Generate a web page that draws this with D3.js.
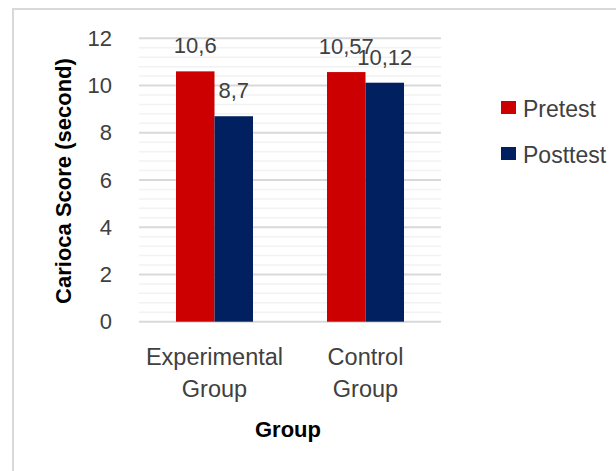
<!DOCTYPE html>
<html>
<head>
<meta charset="utf-8">
<script src="https://cdn.jsdelivr.net/npm/d3@7"></script>
<style>
  html, body { margin: 0; padding: 0; background: #fff; }
  svg { display: block; }
  text { font-family: "Liberation Sans", Arial, sans-serif; }
</style>
</head>
<body>
<svg id="chart" width="616" height="471"></svg>
<script>
// ---- data ----
const categories = [["Experimental", "Group"], ["Control", "Group"]];
const categoryKeys = ["Experimental Group", "Control Group"];
const seriesNames = ["Pretest", "Posttest"];
const pretest = [10.6, 10.57];
const posttest = [8.7, 10.12];
const pretestLabels = ["10,6", "10,57"];
const posttestLabels = ["8,7", "10,12"];
const yTicks = [0, 2, 4, 6, 8, 10, 12];
const yTitle = "Carioca Score (second)";
const xTitle = "Group";

const colors = { Pretest: "#cc0000", Posttest: "#002060" };
const textColor = "#404040";

const svg = d3.select("#chart");

// outer border (chart area)
svg.append("rect")
  .attr("x", 13).attr("y", 9)
  .attr("width", 640).attr("height", 500)
  .attr("fill", "#fff")
  .attr("stroke", "#d9d9d9").attr("stroke-width", 2);

const plot = { left: 139, right: 441, top: 38.3, bottom: 321.7 };

const y = d3.scaleLinear().domain([0, 12]).range([plot.bottom, plot.top]);
const x0 = d3.scaleBand().domain(categoryKeys)
  .range([plot.left, plot.right]).paddingInner(0.49).paddingOuter(0.245);
const x1 = d3.scaleBand().domain(seriesNames).range([0, x0.bandwidth()]);

// minor gridlines
const minor = d3.range(0, 12.0001, 0.4).filter(v => Math.abs(v / 2 - Math.round(v / 2)) > 1e-6);
svg.append("g").selectAll("line").data(minor).join("line")
  .attr("x1", plot.left).attr("x2", plot.right)
  .attr("y1", d => y(d)).attr("y2", d => y(d))
  .attr("stroke", "#f2f2f2").attr("stroke-width", 1.5);

// major gridlines
svg.append("g").selectAll("line").data(yTicks).join("line")
  .attr("x1", plot.left).attr("x2", plot.right)
  .attr("y1", d => y(d)).attr("y2", d => y(d))
  .attr("stroke", "#d9d9d9").attr("stroke-width", 2);

// y axis tick labels
const yAxis = d3.axisLeft(y).tickValues(yTicks).tickSize(0).tickPadding(0).tickFormat(d3.format("d"));
const yg = svg.append("g").attr("transform", `translate(${plot.left - 27},0)`).call(yAxis);
yg.select(".domain").remove();
yg.selectAll("text").attr("fill", textColor).style("font-size", "22px")
  .style("font-family", '"Liberation Sans", Arial, sans-serif');

// bars
const rows = categoryKeys.map((k, i) => ({
  key: k,
  values: [
    { s: "Pretest", v: pretest[i], label: pretestLabels[i] },
    { s: "Posttest", v: posttest[i], label: posttestLabels[i] }
  ]
}));

const groups = svg.append("g").selectAll("g").data(rows).join("g")
  .attr("transform", d => `translate(${x0(d.key)},0)`);

groups.selectAll("rect").data(d => d.values).join("rect")
  .attr("x", d => x1(d.s)).attr("width", x1.bandwidth())
  .attr("y", d => y(d.v)).attr("height", d => y(0) - y(d.v))
  .attr("fill", d => colors[d.s]);

groups.selectAll("text").data(d => d.values).join("text")
  .attr("x", d => x1(d.s) + x1.bandwidth() / 2)
  .attr("y", d => y(d.v) - 18)
  .attr("text-anchor", "middle")
  .attr("fill", textColor)
  .style("font-size", "22px")
  .text(d => d.label);

// category labels
const catG = svg.append("g").selectAll("text").data(categoryKeys).join("text")
  .attr("text-anchor", "middle")
  .attr("fill", textColor)
  .style("font-size", "23.5px");
catG.each(function (d, i) {
  const t = d3.select(this);
  const cx = x0(d) + x0.bandwidth() / 2;
  categories[i].forEach((line, j) => {
    t.append("tspan").attr("x", cx).attr("y", 365 + j * 32).text(line);
  });
});

// axis titles
svg.append("text")
  .attr("x", 288).attr("y", 437)
  .attr("text-anchor", "middle")
  .attr("fill", "#000")
  .style("font-size", "22px").style("font-weight", "bold")
  .text(xTitle);

svg.append("text")
  .attr("transform", `translate(71,${(plot.top + plot.bottom) / 2 + 1}) rotate(-90)`)
  .attr("text-anchor", "middle")
  .attr("fill", "#000")
  .style("font-size", "22px").style("font-weight", "bold")
  .text(yTitle);

// legend
const legend = svg.append("g").selectAll("g").data(seriesNames).join("g")
  .attr("transform", (d, i) => `translate(501,${101 + i * 46})`);
legend.append("rect").attr("width", 15).attr("height", 13).attr("fill", d => colors[d]);
legend.append("text").attr("x", 22).attr("y", 16)
  .attr("fill", textColor).style("font-size", "23px").text(d => d);
</script>
</body>
</html>
